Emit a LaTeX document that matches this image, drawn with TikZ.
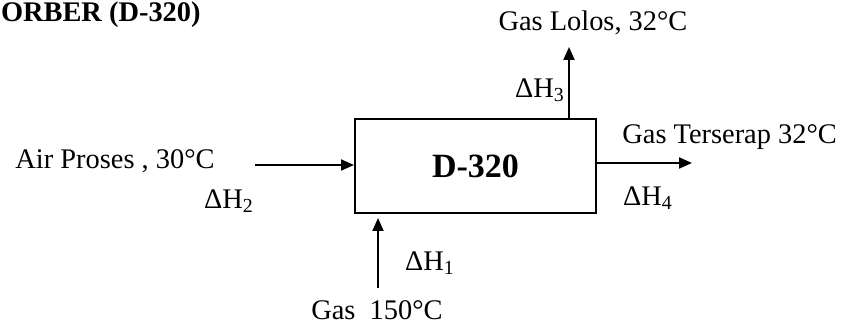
\documentclass[tikz,border=0pt]{standalone}
\usepackage{fontspec}
\setmainfont{Liberation Serif}
\usetikzlibrary{arrows.meta}
\begin{document}
\begin{tikzpicture}[x=0.5pt,y=-0.5pt,
  lbl/.style={inner sep=0pt,font=\fontsize{14.2}{16}\selectfont},
  flow/.style={line width=1pt,-{Triangle[length=6.5pt,width=5.5pt]}},
  unit/.style={draw,line width=1pt,minimum width=120.5pt,minimum height=47pt,inner sep=0pt,font=\fontsize{17}{20}\selectfont\bfseries}]
\useasboundingbox (0,0) rectangle (845,325);
\clip (0,0) rectangle (845,325);
\node[lbl,anchor=east,font=\fontsize{14.2}{16}\selectfont\bfseries] (title) at (201,15) {ABSORBER (D-320)};
\node[unit] (box) at (475.5,166) {D-320};
% top outlet
\coordinate (tout) at (569,47);
\draw[flow] (tout |- box.north) -- (tout);
\node[lbl] (tlab) at (593,23) {Gas Lolos, 32°C};
\node[lbl] (h3) at (540,90) {ΔH\textsubscript{3}};
% right outlet
\coordinate (rout) at (692,163);
\draw[flow] (rout -| box.east) -- (rout);
\node[lbl,anchor=west] (rlab) at (622,137) {Gas Terserap 32°C};
\node[lbl] (h4) at (648,198) {ΔH\textsubscript{4}};
% left inlet
\coordinate (lin) at (255,165);
\draw[flow] (lin) -- (lin -| box.west);
\node[lbl] (llab) at (115,161) {Air Proses , 30°C};
\node[lbl] (h2) at (229,201) {ΔH\textsubscript{2}};
% bottom inlet
\coordinate (bin) at (378,288);
\coordinate (bend) at (378,218);
\draw[flow] (bin) -- (bend);
\node[lbl] (blab) at (377,310) {Gas\ \ 150°C};
\node[lbl] (h1) at (430,263) {ΔH\textsubscript{1}};
\end{tikzpicture}
\end{document}
